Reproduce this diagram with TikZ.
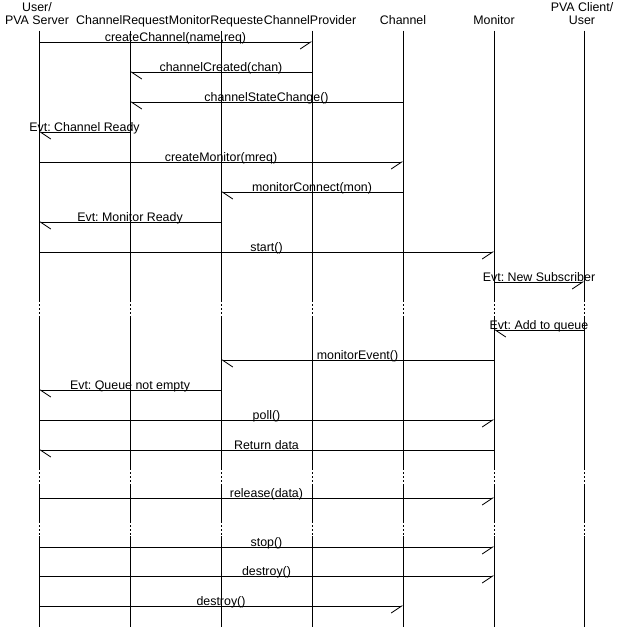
\documentclass[tikz,border=0pt]{standalone}
\usepackage{fontspec}
\setmainfont{Liberation Sans}
\usepackage{tikz}
\usetikzlibrary{arrows.meta,positioning}
\frenchspacing
\tikzset{
  lifeline/.style={line width=0.8pt},
  gapline/.style={line width=0.8pt, dash pattern=on 2pt off 2pt},
  msgfwd/.style={line width=0.8pt, -{Straight Barb[harpoon,swap,length=10.5pt,width=14pt]}},
  msgback/.style={line width=0.8pt, -{Straight Barb[harpoon,length=10.5pt,width=14pt]}},
  msglbl/.style={anchor=base, inner sep=0pt, yshift=0.8pt},
  hdr/.style={anchor=base, inner sep=0pt, align=center}
}

\begin{document}
\begin{tikzpicture}[x=1pt,y=-1pt,font=\fontsize{12.4}{12.3}\selectfont]
  \useasboundingbox (0,0) rectangle (620,627);
  % lifelines, broken by dotted gaps
  \foreach \n/\x in {L1/39,L2/130,L3/221,L4/312,L5/403,L6/494,L7/584} {
    \coordinate (\n) at (\x,30.5);
    \draw[lifeline] (\n) -- (\x,300) (\x,316) -- (\x,468) (\x,485) -- (\x,521) (\x,536) -- (\x,627);
    \draw[gapline] (\x,300) -- (\x,316) (\x,468) -- (\x,485) (\x,521) -- (\x,536);
  }
  % headers
  \node[hdr] (user) at (37,24) {User/\\PVA Server};
  \node[hdr, anchor=base west] (chanreq) at (76,24) {ChannelRequest};
  \node[hdr, base right=0pt of chanreq] (monreq) {MonitorRequeste};
  \node[hdr, base right=0pt of monreq] (prov) {ChannelProvider};
  \node[hdr] (chan) at (403,24) {Channel};
  \node[hdr] (mon) at (494,24) {Monitor};
  \node[hdr] (client) at (582,24) {PVA Client/\\User};
  % messages
  \foreach \f/\t/\y/\s/\txt [count=\k] in {
    L1/L4/42/msgfwd/{createChannel(name,req)},
    L4/L2/72/msgback/{channelCreated(chan)},
    L5/L2/102/msgback/{channelStateChange()},
    L2/L1/132/msgback/{Evt: Channel Ready},
    L1/L5/162/msgfwd/{createMonitor(mreq)},
    L5/L3/192/msgback/{monitorConnect(mon)},
    L3/L1/222/msgback/{Evt: Monitor Ready},
    L1/L6/252/msgfwd/{start()},
    L6/L7/282/msgfwd/{Evt: New Subscriber},
    L7/L6/330/msgback/{Evt: Add to queue},
    L6/L3/360/msgback/{monitorEvent()},
    L3/L1/390/msgback/{Evt: Queue not empty},
    L1/L6/420/msgfwd/{poll()},
    L6/L1/450/msgback/{Return data},
    L1/L6/498/msgfwd/{release(data)},
    L1/L6/547/msgfwd/{stop()},
    L1/L6/576/msgfwd/{destroy()},
    L1/L5/606/msgfwd/{destroy()}
  } {
    \draw[\s] (\f |- 0,\y) -- node[msglbl] (m\k) {\txt} (\t |- 0,\y);
  }
\end{tikzpicture}
\end{document}
